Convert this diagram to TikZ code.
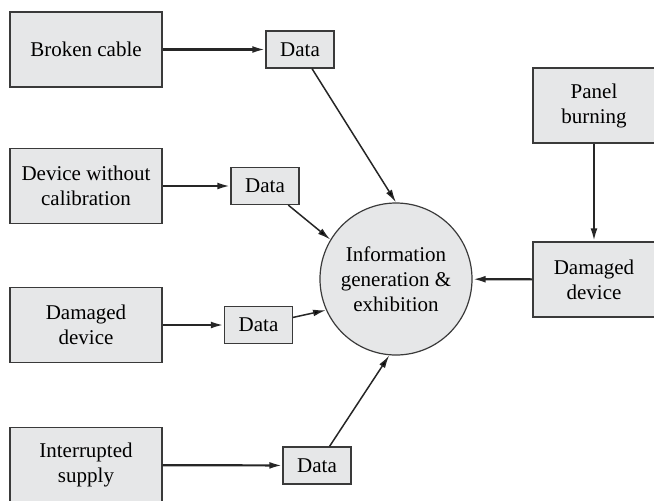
\documentclass[tikz,border=0pt]{standalone}
\usepackage{fontspec}
\setmainfont{Liberation Serif}
\newfontfamily\diagfont{Liberation Serif}
\usepackage{xcolor}
\usepackage{tikz}
\usetikzlibrary{arrows.meta}

\definecolor{boxfill}{HTML}{E6E7E8}
\definecolor{boxline}{HTML}{3A3A3A}

\begin{document}
\begin{tikzpicture}[x=0.5pt,y=-0.5pt,
    font=\diagfont\fontsize{10.5}{12.5}\selectfont,
    box/.style={draw=boxline,fill=boxfill,line width=0.6pt,minimum width=76pt,minimum height=37.5pt,align=center,inner sep=0pt},
    databox/.style={draw=boxline,fill=boxfill,line width=0.6pt,minimum width=34pt,minimum height=18.5pt,inner sep=0pt},
    hub/.style={shape=circle,draw=boxline,fill=boxfill,line width=0.6pt,minimum size=76pt,align=center,inner sep=0pt},
    flow/.style={-{Latex[length=6.5pt,width=3.4pt]},line width=1.1pt,draw=black!85}]
    \clip (0,0) rectangle (654,500);
    % causes on the left
    \node[box] (cable) at (86,49.5) {Broken cable};
    \node[box] (calib) at (86,186) {Device without\\calibration};
    \node[box] (dmgleft) at (86,325) {Damaged\\device};
    \node[box] (supply) at (86,465) {Interrupted\\supply};
    % data
    \node[databox] (data1) at (300,49.5) {Data};
    \node[databox] (data2) at (265,186) {Data};
    \node[databox] (data3) at (258.5,325) {Data};
    \node[databox] (data4) at (317,465.5) {Data};
    % centre
    \node[hub] (info) at (396,279) {Information\\generation \&\\exhibition};
    % right side
    \node[box,minimum width=61pt] (panel) at (594,105.5) {Panel\\burning};
    \node[box,minimum width=61pt] (dmgright) at (594,279.5) {Damaged\\device};
    \path [flow](cable) edge (data1);
    \path [flow](calib) edge (data2);
    \path [flow](dmgleft) edge (data3);
    \path [flow](supply) edge (data4);
    \path [flow,line width=0.75pt](data1) edge (info.north);
    \path [flow,line width=0.75pt](data2) edge (info.149);
    \path [flow,line width=0.75pt](data3) edge (info.204);
    \path [flow,line width=0.75pt](data4) edge (info.265);
    \path [flow](panel) edge (dmgright);
    \path [flow](dmgright) edge (info);
\end{tikzpicture}
\end{document}
